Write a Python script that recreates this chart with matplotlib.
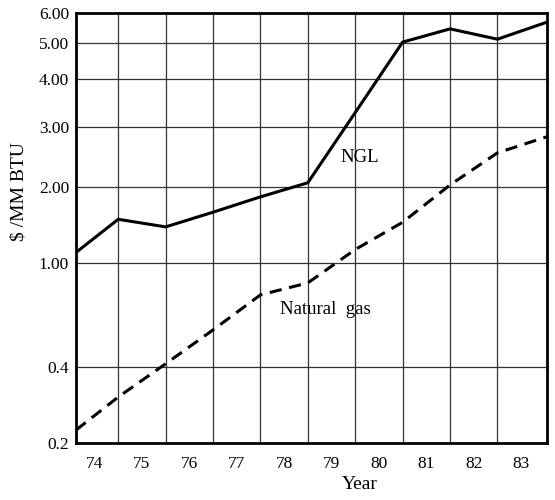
import matplotlib
matplotlib.use("Agg")
import matplotlib.pyplot as plt
import numpy as np

# Data ($/MM BTU); x = boundary between years
years = [73.61, 74.5, 75.5, 76.5, 77.5, 78.5, 79.5, 80.5, 81.5, 82.5, 83.55]
ngl = [1.10, 1.49, 1.39, 1.59, 1.83, 2.06, 3.27, 5.03, 5.45, 5.12, 5.68]
natural_gas = [0.225, 0.304, 0.411, 0.554, 0.754, 0.838, 1.13, 1.45, 2.03, 2.52, 2.81]

year_labels = [74, 75, 76, 77, 78, 79, 80, 81, 82, 83]
y_ticks = [0.2, 0.4, 1.0, 2.0, 3.0, 4.0, 5.0, 6.0]
y_tick_labels = ["0.2", "0.4", "1.00", "2.00", "3.00", "4.00", "5.00", "6.00"]

# the printed axis is not a clean log scale: position of each gridline (0..1)
tick_pos = np.array([0.0, 0.177, 0.419, 0.595, 0.735, 0.847, 0.930, 1.0])
log_ticks = np.log10(y_ticks)


def forward(v):
    v = np.clip(np.asarray(v, dtype=float), 1e-6, None)
    return np.interp(np.log10(v), log_ticks, tick_pos)


def inverse(p):
    return 10 ** np.interp(np.asarray(p, dtype=float), tick_pos, log_ticks)


plt.rcParams['font.family'] = ['Liberation Serif', 'DejaVu Serif']
plt.rcParams['font.size'] = 12.5

fig = plt.figure(figsize=(5.55, 5.0), dpi=100)
ax = fig.add_axes([0.137, 0.114, 0.849, 0.86])
ax.set_yscale('function', functions=(forward, inverse))

ax.plot(years, ngl, color='black', lw=2.2)
ax.plot(years, natural_gas, color='black', lw=2.2, linestyle=(0, (4, 2.5)))

ax.set_xlim(73.61, 83.55)
ax.set_ylim(0.2, 6.0)

ax.set_yticks(y_ticks)
ax.set_yticklabels(y_tick_labels)
ax.yaxis.set_minor_locator(matplotlib.ticker.NullLocator())
ax.set_xticks(year_labels)
ax.set_xticklabels([str(y) for y in year_labels])
ax.set_xticks(np.arange(74.5, 83, 1.0), minor=True)

ax.tick_params(axis='both', which='both', length=0)
ax.tick_params(axis='y', pad=5)
ax.tick_params(axis='x', pad=9)

ax.grid(True, axis='y', which='major', color='#333333', lw=0.9)
ax.grid(True, axis='x', which='minor', color='#333333', lw=0.9)
ax.set_axisbelow(True)

for s in ax.spines.values():
    s.set_linewidth(2.0)
    s.set_color('black')

ax.text(79.6, 2.45, "NGL", ha='center', va='center', fontsize=13.5)
ax.text(78.86, 0.665, "Natural  gas", ha='center', va='center', fontsize=13.5)

ax.set_xlabel("Year", fontsize=14)
ax.xaxis.set_label_coords(0.603, -0.077)
ax.set_ylabel("$ /MM BTU", fontsize=14)
ax.yaxis.set_label_coords(-0.104, 0.584)

fig.savefig("out.png", dpi=100)
